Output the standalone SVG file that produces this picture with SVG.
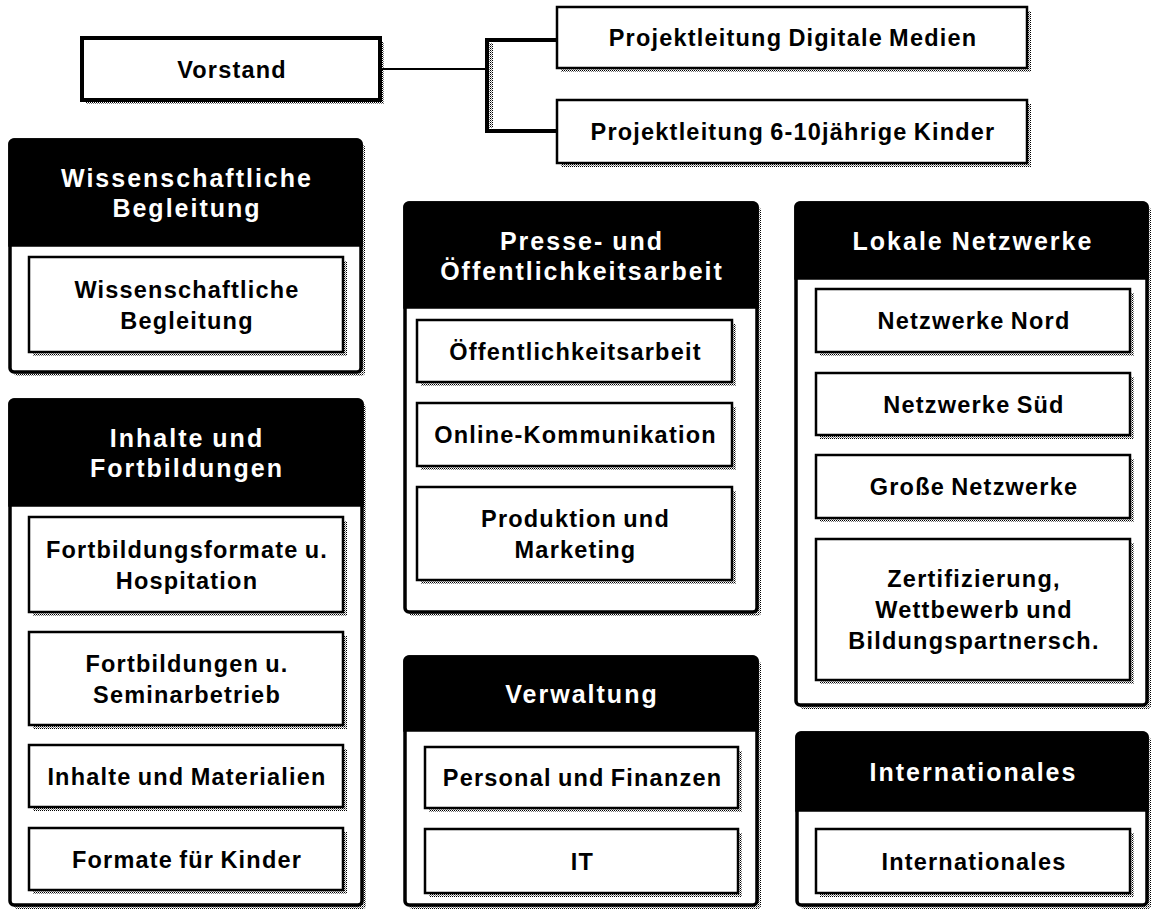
<svg xmlns="http://www.w3.org/2000/svg" width="1153" height="914" viewBox="0 0 1153 914">
<defs>
<pattern id="dots" patternUnits="userSpaceOnUse" width="2" height="2">
<rect x="0" y="0" width="1" height="1" fill="#000"/>
<rect x="1" y="1" width="1" height="1" fill="#000" opacity="0.5"/>
</pattern>
<style>
.sh{fill:url(#dots);stroke:none}
.box{fill:#fff;stroke:#000;stroke-width:2.5}
.cont{fill:#fff;stroke:#000;stroke-width:3.5}
.head{fill:#000;stroke:#000;stroke-width:3.5}
.lbl{font-family:"Liberation Sans",Arial,sans-serif;font-weight:bold;font-size:23.5px;letter-spacing:1.2px;word-spacing:-1.5px;fill:#000;text-anchor:middle}
.hdr{font-family:"Liberation Sans",Arial,sans-serif;font-weight:bold;font-size:25px;letter-spacing:2px;word-spacing:-1px;fill:#fff;text-anchor:middle}
.thin{fill:none;stroke:#000;stroke-width:2}
.thick{fill:none;stroke:#000;stroke-width:4}
</style>
</defs>
<rect width="1153" height="914" fill="#fff"/>

<g id="connectors">
<path class="sh" d="M489,43 h4 v85 h-4z"/>
<path class="thin" d="M382,69 H487"/>
<path class="thick" d="M557,40 H487 V131 H557"/>
</g>

<g id="vorstand">
<rect class="sh" x="86" y="42" width="298" height="62"/>
<rect class="box" x="82" y="38" width="298" height="62" style="stroke-width:4"/>
<text class="lbl" x="232" y="77.5">Vorstand</text>
</g>

<g id="pl-digitale-medien">
<rect class="sh" x="561" y="11" width="470" height="61"/>
<rect class="box" x="557" y="7" width="470" height="61"/>
<text class="lbl" x="793" y="46">Projektleitung Digitale Medien</text>
</g>

<g id="pl-kinder">
<rect class="sh" x="561" y="104" width="470" height="63"/>
<rect class="box" x="557" y="100" width="470" height="63"/>
<text class="lbl" x="793" y="140">Projektleitung 6-10jährige Kinder</text>
</g>

<g id="wissenschaftliche-begleitung">
<rect class="sh" x="14" y="144" width="351" height="232" rx="4"/>
<rect class="cont" x="10" y="140" width="351" height="232" rx="4"/>
<path class="head" d="M10,245 V144 a4,4 0 0 1 4,-4 H357 a4,4 0 0 1 4,4 V245z"/>
<text class="hdr" x="187" y="186.5">Wissenschaftliche</text>
<text class="hdr" x="187" y="216.5">Begleitung</text>
<g id="wb-inner">
<rect class="sh" x="33" y="261" width="314" height="95"/>
<rect class="box" x="29" y="257" width="314" height="95"/>
<text class="lbl" x="187" y="297.5">Wissenschaftliche</text>
<text class="lbl" x="187" y="328.5">Begleitung</text>
</g>
</g>

<g id="inhalte-fortbildungen">
<rect class="sh" x="14" y="404" width="352" height="505" rx="4"/>
<rect class="cont" x="10" y="400" width="352" height="505" rx="4"/>
<path class="head" d="M10,505 V404 a4,4 0 0 1 4,-4 H358 a4,4 0 0 1 4,4 V505z"/>
<text class="hdr" x="187" y="446.5">Inhalte und</text>
<text class="hdr" x="187" y="476.5">Fortbildungen</text>
<g id="fortbildungsformate">
<rect class="sh" x="33" y="521" width="314" height="95"/>
<rect class="box" x="29" y="517" width="314" height="95"/>
<text class="lbl" x="187" y="557.5">Fortbildungsformate u.</text>
<text class="lbl" x="187" y="588.5">Hospitation</text>
</g>
<g id="fortbildungen-seminar">
<rect class="sh" x="33" y="636" width="314" height="93"/>
<rect class="box" x="29" y="632" width="314" height="93"/>
<text class="lbl" x="187" y="671.5">Fortbildungen u.</text>
<text class="lbl" x="187" y="702.5">Seminarbetrieb</text>
</g>
<g id="inhalte-materialien">
<rect class="sh" x="33" y="749" width="314" height="62"/>
<rect class="box" x="29" y="745" width="314" height="62"/>
<text class="lbl" x="187" y="784.5">Inhalte und Materialien</text>
</g>
<g id="formate-kinder">
<rect class="sh" x="33" y="832" width="314" height="62"/>
<rect class="box" x="29" y="828" width="314" height="62"/>
<text class="lbl" x="187" y="867.5">Formate für Kinder</text>
</g>
</g>

<g id="presse">
<rect class="sh" x="409" y="207" width="352" height="409" rx="4"/>
<rect class="cont" x="405" y="203" width="352" height="409" rx="4"/>
<path class="head" d="M405,307 V207 a4,4 0 0 1 4,-4 H753 a4,4 0 0 1 4,4 V307z"/>
<text class="hdr" x="582" y="249.5">Presse- und</text>
<text class="hdr" x="582" y="279.5">Öffentlichkeitsarbeit</text>
<g id="oeffentlichkeitsarbeit">
<rect class="sh" x="421" y="324" width="315" height="62"/>
<rect class="box" x="417" y="320" width="315" height="62"/>
<text class="lbl" x="575.5" y="359.5">Öffentlichkeitsarbeit</text>
</g>
<g id="online-kommunikation">
<rect class="sh" x="421" y="407" width="315" height="63"/>
<rect class="box" x="417" y="403" width="315" height="63"/>
<text class="lbl" x="575.5" y="443">Online-Kommunikation</text>
</g>
<g id="produktion-marketing">
<rect class="sh" x="421" y="491" width="315" height="93"/>
<rect class="box" x="417" y="487" width="315" height="93"/>
<text class="lbl" x="575.5" y="526.5">Produktion und</text>
<text class="lbl" x="575.5" y="557.5">Marketing</text>
</g>
</g>

<g id="verwaltung">
<rect class="sh" x="409" y="661" width="352" height="248" rx="4"/>
<rect class="cont" x="405" y="657" width="352" height="248" rx="4"/>
<path class="head" d="M405,730 V661 a4,4 0 0 1 4,-4 H753 a4,4 0 0 1 4,4 V730z"/>
<text class="hdr" x="582" y="702.5">Verwaltung</text>
<g id="personal-finanzen">
<rect class="sh" x="429" y="751" width="313" height="61"/>
<rect class="box" x="425" y="747" width="313" height="61"/>
<text class="lbl" x="582.5" y="786">Personal und Finanzen</text>
</g>
<g id="it">
<rect class="sh" x="429" y="833" width="313" height="64"/>
<rect class="box" x="425" y="829" width="313" height="64"/>
<text class="lbl" x="582.5" y="869.5">IT</text>
</g>
</g>

<g id="lokale-netzwerke">
<rect class="sh" x="800" y="207" width="351" height="502" rx="4"/>
<rect class="cont" x="796" y="203" width="351" height="502" rx="4"/>
<path class="head" d="M796,278 V207 a4,4 0 0 1 4,-4 H1143 a4,4 0 0 1 4,4 V278z"/>
<text class="hdr" x="973" y="249.5">Lokale Netzwerke</text>
<g id="netzwerke-nord">
<rect class="sh" x="820" y="293" width="314" height="63"/>
<rect class="box" x="816" y="289" width="314" height="63"/>
<text class="lbl" x="974" y="329">Netzwerke Nord</text>
</g>
<g id="netzwerke-sued">
<rect class="sh" x="820" y="377" width="314" height="62"/>
<rect class="box" x="816" y="373" width="314" height="62"/>
<text class="lbl" x="974" y="412.5">Netzwerke Süd</text>
</g>
<g id="grosse-netzwerke">
<rect class="sh" x="820" y="459" width="314" height="63"/>
<rect class="box" x="816" y="455" width="314" height="63"/>
<text class="lbl" x="974" y="495">Große Netzwerke</text>
</g>
<g id="zertifizierung">
<rect class="sh" x="820" y="543" width="314" height="141"/>
<rect class="box" x="816" y="539" width="314" height="141"/>
<text class="lbl" x="974" y="587">Zertifizierung,</text>
<text class="lbl" x="974" y="618">Wettbewerb und</text>
<text class="lbl" x="974" y="649">Bildungspartnersch.</text>
</g>
</g>

<g id="internationales">
<rect class="sh" x="801" y="737" width="350" height="172" rx="4"/>
<rect class="cont" x="797" y="733" width="350" height="172" rx="4"/>
<path class="head" d="M797,810 V737 a4,4 0 0 1 4,-4 H1143 a4,4 0 0 1 4,4 V810z"/>
<text class="hdr" x="973.5" y="780.5">Internationales</text>
<g id="internationales-inner">
<rect class="sh" x="820" y="833" width="314" height="64"/>
<rect class="box" x="816" y="829" width="314" height="64"/>
<text class="lbl" x="974" y="869.5">Internationales</text>
</g>
</g>
</svg>
